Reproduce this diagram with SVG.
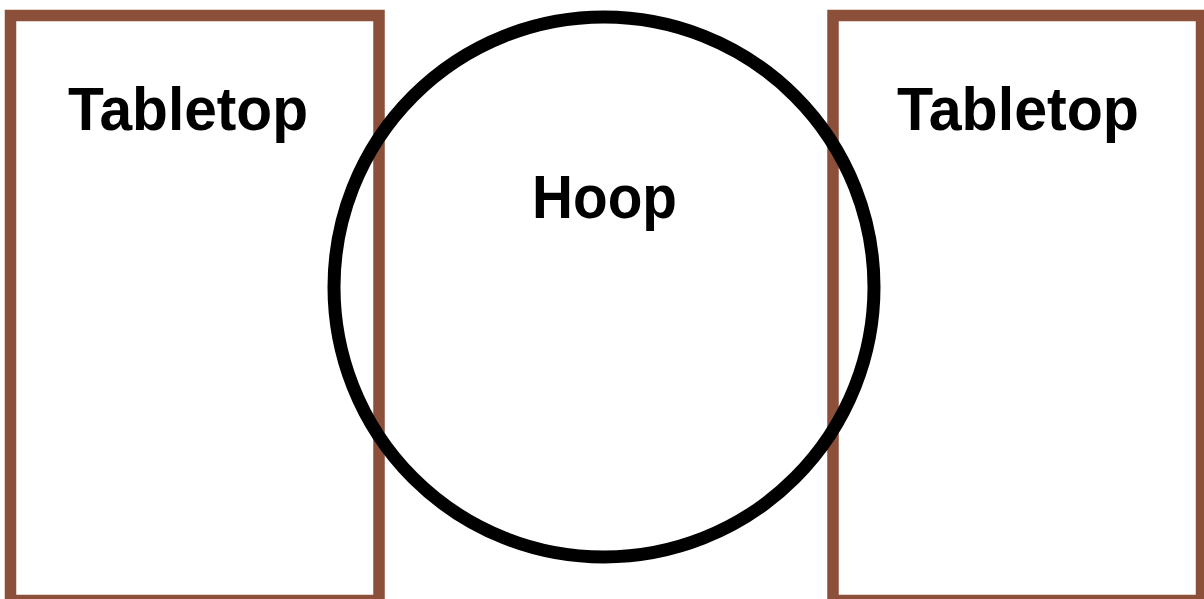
<svg xmlns="http://www.w3.org/2000/svg" width="1204" height="599" viewBox="0 0 1204 599">
<style>
.table{fill:none;stroke:#8B4F3A;stroke-width:11.5}
.hoop{fill:none;stroke:#000;stroke-width:13}
.lbl{font-family:"Liberation Sans",Arial,sans-serif;font-weight:bold;font-size:62px;fill:#000;text-anchor:middle}
</style>
<rect width="1204" height="599" fill="#fff"/>
<g id="tabletop-left">
<rect class="table" x="10.5" y="15.5" width="368.5" height="585"/>
<text class="lbl" x="188" y="130" textLength="240" lengthAdjust="spacingAndGlyphs">Tabletop</text>
</g>
<g id="tabletop-right">
<rect class="table" x="833" y="15.5" width="368.5" height="585"/>
<text class="lbl" x="1018" y="130" textLength="242" lengthAdjust="spacingAndGlyphs">Tabletop</text>
</g>
<g id="hoop">
<circle class="hoop" cx="604" cy="287" r="270"/>
<text class="lbl" x="604.5" y="218" textLength="145" lengthAdjust="spacingAndGlyphs">Hoop</text>
</g>
<g id="connectors"></g>
</svg>
